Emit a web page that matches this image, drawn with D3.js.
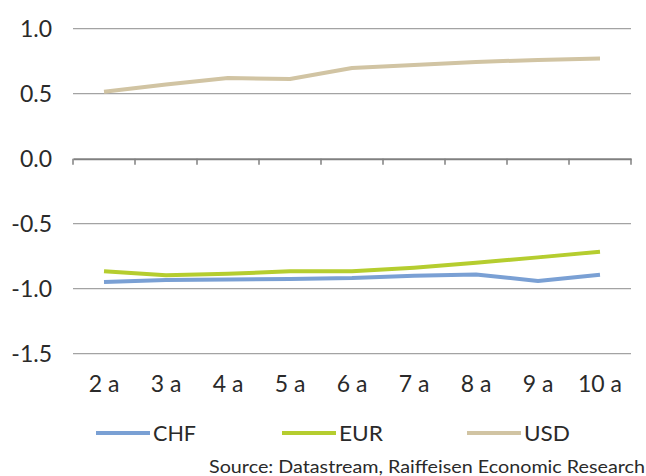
<!DOCTYPE html>
<html>
<head>
<meta charset="utf-8">
<script src="https://cdn.jsdelivr.net/npm/d3@7"></script>
<style>
  html, body { margin: 0; padding: 0; background: #fff; }
  svg { display: block; }
</style>
</head>
<body>
<svg id="chart" width="646" height="476"></svg>
<script>
// Maturities and yields (%) per currency
const maturities = ["2 a", "3 a", "4 a", "5 a", "6 a", "7 a", "8 a", "9 a", "10 a"];
const chf = [-0.948, -0.933, -0.93, -0.925, -0.918, -0.90, -0.89, -0.94, -0.892];
const eur = [-0.866, -0.897, -0.885, -0.866, -0.866, -0.838, -0.80, -0.759, -0.715];
const usd = [0.515, 0.57, 0.62, 0.613, 0.698, 0.72, 0.744, 0.76, 0.77];
const yTicks = [1.0, 0.5, 0.0, -0.5, -1.0, -1.5];
const seriesNames = ["CHF", "EUR", "USD"];

const series = [
  { name: seriesNames[0], values: chf, color: "#7aa0d4" },
  { name: seriesNames[1], values: eur, color: "#b5cd2f" },
  { name: seriesNames[2], values: usd, color: "#d1c4a3" }
];

const svg = d3.select("#chart");
const left = 73, right = 631;

const x = d3.scaleBand().domain(maturities).range([left, right]);
const y = d3.scaleLinear().domain([-1.5, 1.0]).range([353.7, 28.7]);

const font = "Lato, 'Open Sans', sans-serif";
const ink = "#2a2a2a";

// horizontal gridlines
svg.append("g")
  .selectAll("line")
  .data(yTicks.filter(d => d !== 0))
  .join("line")
  .attr("x1", left).attr("x2", right)
  .attr("y1", d => y(d)).attr("y2", d => y(d))
  .attr("stroke", "#a3a3a3").attr("stroke-width", 1.2);

// y tick labels
svg.append("g")
  .selectAll("text")
  .data(yTicks)
  .join("text")
  .attr("x", 52)
  .attr("y", d => y(d))
  .attr("dy", "0.36em")
  .attr("text-anchor", "end")
  .attr("font-family", font)
  .attr("font-size", 23)
  .attr("fill", ink)
  .text(d => d.toFixed(1));

// category axis on the zero line
const xAxis = d3.axisBottom(x).tickSize(0).tickFormat("");
const ax = svg.append("g").attr("transform", `translate(0,${y(0)})`).call(xAxis);
ax.select(".domain").attr("stroke", "#808080").attr("stroke-width", 2);
// tick marks at category boundaries
const bounds = maturities.map(m => x(m)).concat([right]);
svg.append("g")
  .selectAll("line")
  .data(bounds)
  .join("line")
  .attr("x1", d => d).attr("x2", d => d)
  .attr("y1", y(0)).attr("y2", y(0) + 6)
  .attr("stroke", "#808080").attr("stroke-width", 1.5);

// category labels below the plot
svg.append("g")
  .selectAll("text")
  .data(maturities)
  .join("text")
  .attr("x", d => x(d) + x.bandwidth() / 2)
  .attr("y", 392)
  .attr("text-anchor", "middle")
  .attr("font-family", font)
  .attr("font-size", 23)
  .attr("fill", ink)
  .text(d => d);

// series lines
const line = d3.line()
  .x((d, i) => x(maturities[i]) + x.bandwidth() / 2)
  .y(d => y(d));

svg.append("g")
  .selectAll("path")
  .data(series)
  .join("path")
  .attr("d", d => line(d.values))
  .attr("fill", "none")
  .attr("stroke", d => d.color)
  .attr("stroke-width", 4)
  .attr("stroke-linejoin", "round");

// legend
const legendX = [96, 282, 467];
const legendTextW = [43, 44, 46];
const lg = svg.append("g").selectAll("g").data(series).join("g")
  .attr("transform", (d, i) => `translate(${legendX[i]},433)`);
lg.append("line")
  .attr("x1", 0).attr("x2", 54)
  .attr("stroke", d => d.color).attr("stroke-width", 4);
lg.append("text")
  .attr("x", 57)
  .attr("dy", "0.36em")
  .attr("font-family", font)
  .attr("font-size", 22)
  .attr("fill", ink)
  .attr("textLength", (d, i) => legendTextW[i])
  .attr("lengthAdjust", "spacingAndGlyphs")
  .text(d => d.name);

// source note
svg.append("text")
  .attr("x", 209)
  .attr("y", 472.7)
  .attr("font-family", font)
  .attr("font-size", 18)
  .attr("fill", ink)
  .attr("textLength", 436)
  .attr("lengthAdjust", "spacingAndGlyphs")
  .text("Source: Datastream, Raiffeisen Economic Research");
</script>
</body>
</html>
